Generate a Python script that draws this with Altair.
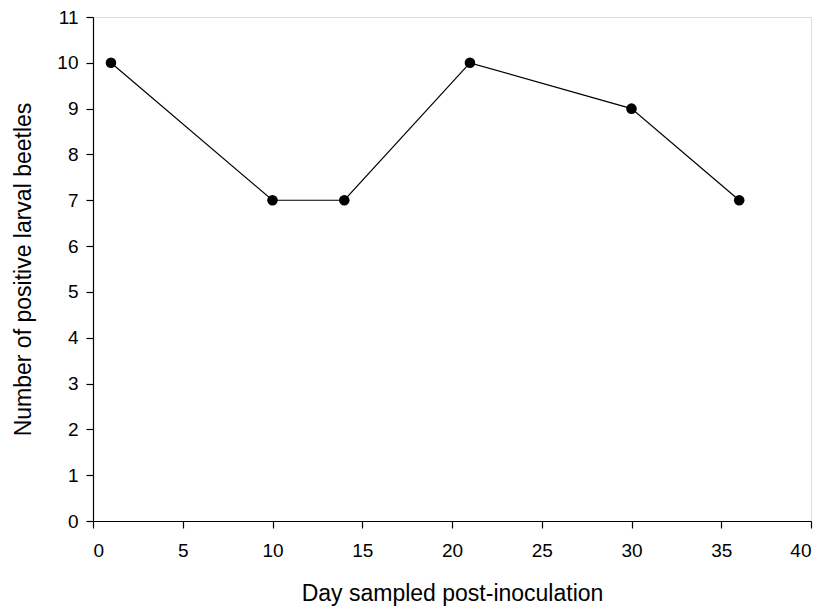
import altair as alt
import pandas as pd

days = [1, 10, 14, 21, 30, 36]
positives = [10, 7, 7, 10, 9, 7]
x_ticks = [0, 5, 10, 15, 20, 25, 30, 35, 40]
y_ticks = list(range(0, 12))

df = pd.DataFrame({"day": days, "pos": positives})

FONT = "Liberation Sans"
common = dict(grid=False, tickSize=7, tickColor="black", domainColor="black",
              labelFontSize=19, titleFontSize=23, labelColor="black", titleColor="black",
              titleFontWeight="normal", labelFont=FONT, titleFont=FONT,
              domainWidth=1.2, tickWidth=1.2)

x = alt.X("day:Q", scale=alt.Scale(domain=[0, 40], nice=False, zero=False),
          axis=alt.Axis(values=x_ticks, title="Day sampled post-inoculation",
                        labelPadding=13, titlePadding=22, **common))
y = alt.Y("pos:Q", scale=alt.Scale(domain=[0, 11], nice=False),
          axis=alt.Axis(values=y_ticks, title="Number of positive larval beetles",
                        labelPadding=8, titlePadding=21, **common))

line = alt.Chart(df).mark_line(color="black", strokeWidth=1.2).encode(x=x, y=y)
pts = alt.Chart(df).mark_point(filled=True, color="black", size=112, opacity=1).encode(x=x, y=y)

chart = (line + pts).properties(
    width=718, height=504,
    autosize=alt.AutoSizeParams(type="none"),
    padding={"left": 85, "top": 9, "right": 6, "bottom": 90},
).configure_view(stroke="black", strokeWidth=1.2).configure(background="white")

chart.save("out.html", embed_options={"renderer": "svg", "actions": False})
